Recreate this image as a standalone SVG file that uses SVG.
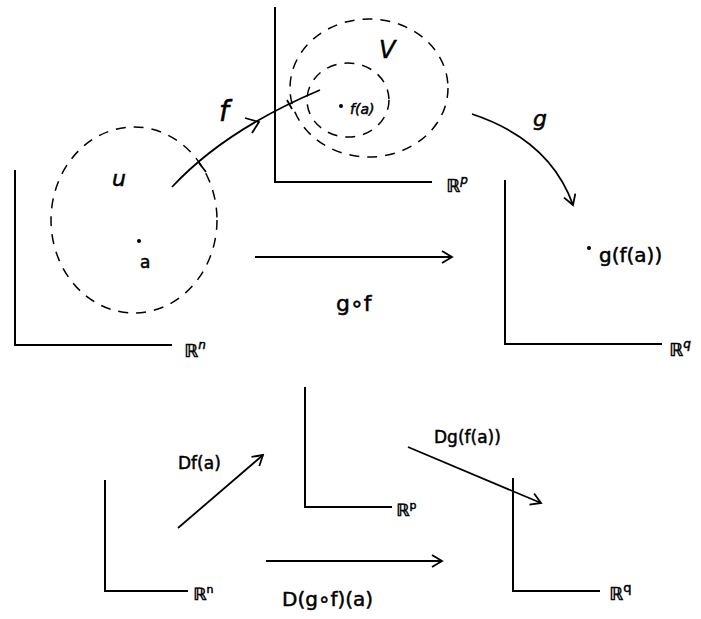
<svg xmlns="http://www.w3.org/2000/svg" width="701" height="619" viewBox="0 0 701 619">
<style>
.ax{fill:none;stroke:#000;stroke-width:2}
.ds{fill:none;stroke:#000;stroke-width:1.5;stroke-dasharray:10 8}
.ln{fill:none;stroke:#000;stroke-width:1.8}
.t{font-family:"DejaVu Sans",sans-serif;fill:#000;stroke:#000;stroke-width:0.5}
</style>
<defs>
<marker id="ah" markerUnits="userSpaceOnUse" markerWidth="14" markerHeight="14" viewBox="0 0 14 14" refX="12" refY="7" orient="auto">
<path d="M2,1 L12,7 L2,13" fill="none" stroke="#000" stroke-width="1.8"/>
</marker>
</defs>
<rect width="701" height="619" fill="#fff"/>

<g id="space-Rn-top">
<path class="ax" d="M15,170 V345 H172"/>
<text class="t" x="184" y="357" font-size="18" font-style="italic">ℝ<tspan dy="-8" font-size="12">n</tspan></text>
</g>
<g id="set-U">
<ellipse class="ds" cx="134" cy="220" rx="83" ry="93"/>
<text class="t" x="112" y="186" font-size="22" font-style="italic">u</text>
<circle cx="139" cy="241" r="2"/>
<text class="t" x="140" y="268" font-size="17">a</text>
</g>

<g id="space-Rp-top">
<path class="ax" d="M275,7 V182 H432"/>
<text class="t" x="446" y="192" font-size="18" font-style="italic">ℝ<tspan dy="-8" font-size="12">p</tspan></text>
</g>
<g id="set-V">
<ellipse class="ds" cx="369" cy="88" rx="79" ry="69"/>
<ellipse class="ds" cx="348" cy="100" rx="41" ry="37"/>
<text class="t" x="379" y="58" font-size="24" font-style="italic">V</text>
<circle cx="341" cy="106" r="2"/>
<text class="t" x="350" y="114" font-size="14" font-style="italic">f(a)</text>
</g>

<g id="space-Rq-top">
<path class="ax" d="M505,180 V344 H662"/>
<text class="t" x="669" y="356" font-size="18" font-style="italic">ℝ<tspan dy="-8" font-size="12">q</tspan></text>
<circle cx="589" cy="248" r="2"/>
<text class="t" x="599" y="262" font-size="20">g(f(a))</text>
</g>

<g id="space-Rn-bottom">
<path class="ax" d="M105,480 V591 H188"/>
<text class="t" x="193" y="600" font-size="17">ℝ<tspan dy="-7" font-size="11">n</tspan></text>
</g>
<g id="space-Rp-bottom">
<path class="ax" d="M305,387 V507 H392"/>
<text class="t" x="396" y="516" font-size="17">ℝ<tspan dy="-7" font-size="11">p</tspan></text>
</g>
<g id="space-Rq-bottom">
<path class="ax" d="M513,478 V591 H600"/>
<text class="t" x="609" y="600" font-size="18">ℝ<tspan dy="-8" font-size="13">q</tspan></text>
</g>

<g id="connectors">
<path class="ln" d="M172,187 Q225,130 320,90"/>
<path class="ln" d="M245,118 L259,122 L252,133"/>
<path class="ln" d="M199,163 L206,172 M287,100 L292,109"/>
<text class="t" x="219" y="121" font-size="28" font-style="italic">f</text>

<path class="ln" d="M472,114 Q550,140 573,205" marker-end="url(#ah)"/>
<text class="t" x="533" y="126" font-size="22" font-style="italic">g</text>

<line class="ln" x1="255" y1="257" x2="452" y2="257" marker-end="url(#ah)"/>
<text class="t" x="336" y="311" font-size="22">g∘f</text>

<line class="ln" x1="178" y1="528" x2="263" y2="455" marker-end="url(#ah)"/>
<text class="t" x="178" y="469" font-size="17">Df(a)</text>

<line class="ln" x1="408" y1="447" x2="541" y2="503" marker-end="url(#ah)"/>
<text class="t" x="434" y="443" font-size="17">Dg(f(a))</text>

<line class="ln" x1="266" y1="561" x2="442" y2="561" marker-end="url(#ah)"/>
<text class="t" x="282" y="606" font-size="20">D(g∘f)(a)</text>
</g>
</svg>
